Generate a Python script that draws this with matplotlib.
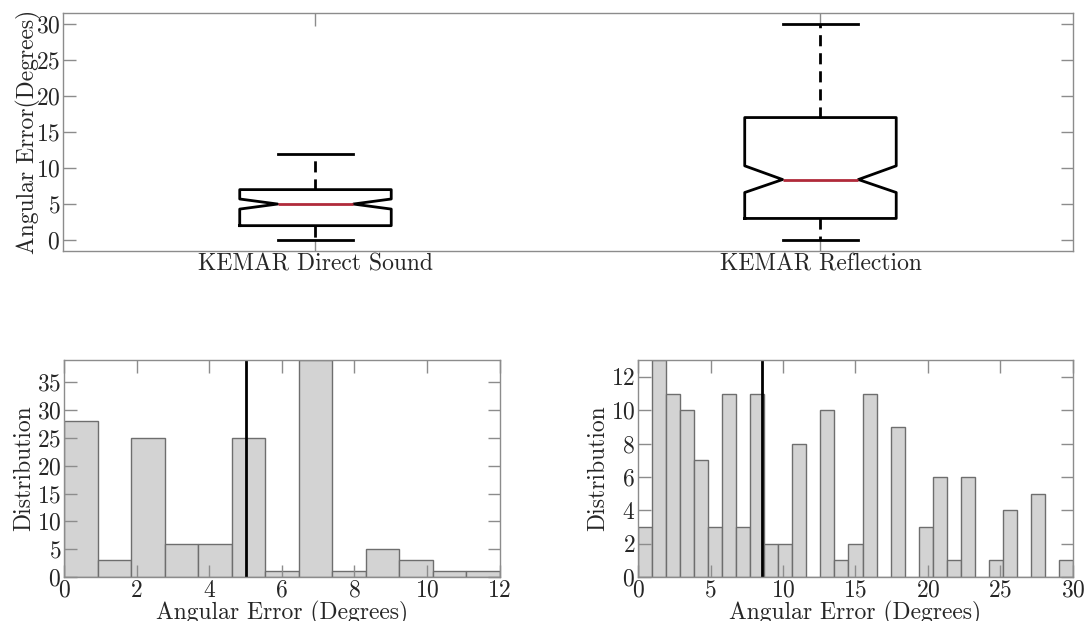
import numpy as np
import matplotlib
matplotlib.use('Agg')
import matplotlib.pyplot as plt

# box plot summary values (degrees)
box_labels = ['KEMAR Direct Sound', 'KEMAR Reflection']
box_med = [5.0, 8.4]
box_q1 = [2.0, 3.0]
box_q3 = [7.0, 17.0]
box_whislo = [0.0, 0.0]
box_whishi = [12.0, 30.0]
box_notch_lo = [4.3, 6.6]
box_notch_hi = [5.7, 10.3]

# histogram counts
direct_counts = [28, 3, 25, 6, 6, 25, 1, 39, 1, 5, 3, 1, 1]
direct_range = (0, 12)
direct_median = 5.0

refl_counts = [3, 13, 11, 10, 7, 3, 11, 3, 11, 2, 2, 8, 0, 10, 1, 2, 11, 0, 9, 0,
               3, 6, 1, 6, 0, 1, 4, 0, 5, 0, 1]
refl_range = (0, 30)
refl_median = 8.55

plt.rcParams['font.family'] = 'serif'
plt.rcParams['font.serif'] = ['cmr10']
plt.rcParams['mathtext.fontset'] = 'cm'
plt.rcParams['axes.formatter.use_mathtext'] = True
plt.rcParams['font.size'] = 17

spine_col = '#8c8c8c'
text_col = '#262626'

fig = plt.figure(figsize=(10.86, 6.21), dpi=100)
ax_top = fig.add_axes([0.058, 0.596, 0.930, 0.383])
ax_l = fig.add_axes([0.059, 0.071, 0.401, 0.349])
ax_r = fig.add_axes([0.5875, 0.071, 0.4005, 0.349])


def style_axes(ax):
    for s in ax.spines.values():
        s.set_color(spine_col)
        s.set_linewidth(1.0)
    ax.tick_params(direction='in', length=9, width=1, color=spine_col,
                   top=True, right=True, labelcolor=text_col, pad=2)


# [1] box plot
stats = []
for i in range(len(box_labels)):
    stats.append(dict(med=box_med[i], q1=box_q1[i], q3=box_q3[i],
                      whislo=box_whislo[i], whishi=box_whishi[i],
                      cilo=box_notch_lo[i], cihi=box_notch_hi[i],
                      fliers=[], label=box_labels[i]))
ax_top.bxp(stats, positions=[1, 2], widths=0.3, shownotches=True,
           showfliers=False,
           boxprops=dict(color='black', linewidth=2),
           whiskerprops=dict(color='black', linewidth=2, linestyle=(0, (4, 2.5))),
           capprops=dict(color='black', linewidth=2),
           medianprops=dict(color='#b02a3a', linewidth=2))
ax_top.set_xlim(0.5, 2.5)
ax_top.set_ylim(-1.5, 31.5)
ax_top.set_yticks([0, 5, 10, 15, 20, 25, 30])
ax_top.set_ylabel('Angular Error(Degrees)', color=text_col, labelpad=-4)
style_axes(ax_top)

# [2] histograms
def draw_hist(ax, counts, rng, median, yticks, xticks):
    edges = np.linspace(rng[0], rng[1], len(counts) + 1)
    centers = (edges[:-1] + edges[1:]) / 2
    ax.hist(centers, bins=edges, weights=counts, color='#d3d3d3',
            edgecolor='#6e6e6e', linewidth=1)
    ax.axvline(median, color='black', linewidth=2)
    ax.set_xlim(rng)
    ax.set_ylim(0, max(counts))
    ax.set_yticks(yticks)
    ax.set_xticks(xticks)
    ax.set_xlabel('Angular Error (Degrees)', color=text_col, labelpad=-1)
    ax.set_ylabel('Distribution', color=text_col, labelpad=1)
    style_axes(ax)

draw_hist(ax_l, direct_counts, direct_range, direct_median,
          [0, 5, 10, 15, 20, 25, 30, 35], [0, 2, 4, 6, 8, 10, 12])
draw_hist(ax_r, refl_counts, refl_range, refl_median,
          [0, 2, 4, 6, 8, 10, 12], [0, 5, 10, 15, 20, 25, 30])

fig.savefig('out.png', dpi=100)
